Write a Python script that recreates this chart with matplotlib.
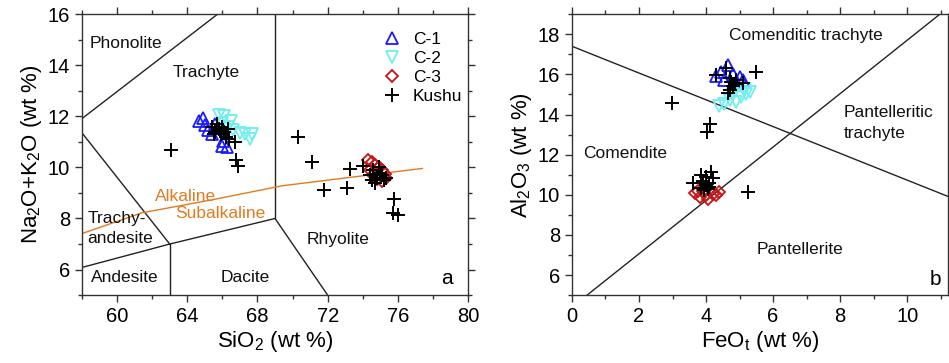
import matplotlib
matplotlib.use("Agg")
import matplotlib.pyplot as plt
from matplotlib.ticker import MultipleLocator

plt.rcParams['font.family'] = ['Liberation Sans', 'DejaVu Sans']
plt.rcParams['mathtext.default'] = 'regular'

# ---------------- Panel a: TAS ----------------
c1_sio2 = [64.65, 64.9, 65.0, 65.2, 65.6, 66.0, 66.25, 66.05, 65.4]
c1_alk = [11.8, 11.95, 11.65, 11.45, 11.7, 10.85, 10.8, 11.05, 11.3]
c2_sio2 = [65.8, 66.1, 66.5, 66.6, 67.0, 67.3, 67.7, 67.6, 66.3, 66.0]
c2_alk = [12.05, 12.0, 11.8, 11.45, 11.35, 11.3, 11.3, 11.1, 11.6, 11.75]
c3_sio2 = [74.3, 74.5, 74.7, 74.9, 75.1, 75.25, 75.3, 75.1, 74.8, 74.6, 74.4]
c3_alk = [10.3, 10.2, 10.1, 10.0, 9.9, 9.75, 9.6, 9.45, 9.55, 9.7, 9.9]
ku_sio2 = [63.1, 65.4, 65.6, 65.8, 65.9, 66.0, 66.1, 66.2, 66.3, 65.7, 65.5, 66.4,
           66.7, 66.8, 66.9, 70.3, 71.1, 71.8, 73.1, 73.3, 74.0, 74.4, 74.6, 74.8,
           75.0, 75.2, 75.3, 74.5, 74.9, 75.1, 74.7, 75.8, 75.7, 76.0]
ku_alk = [10.7, 11.6, 11.4, 11.5, 11.3, 11.6, 11.4, 11.2, 11.5, 11.7, 11.3, 11.1,
          11.0, 10.3, 10.05, 11.2, 10.2, 9.1, 9.2, 9.95, 10.05, 9.7, 9.9, 9.6,
          9.8, 9.5, 9.6, 9.5, 10.0, 9.7, 9.4, 8.75, 8.2, 8.15]

# TAS boundary lines
tas_lines = [
    ([57.6, 69.0], [11.7, 17.73]),
    ([57.6, 63.0], [11.7, 7.0]),
    ([57.0, 63.0, 69.0, 77.0], [5.9, 7.0, 8.0, 0.0]),
    ([63.0, 63.0], [0.0, 7.0]),
    ([69.0, 69.0], [8.0, 17.0]),
]
ab_sio2 = [58.0, 61.4, 65.4, 69.4, 77.4]
ab_alk = [7.41, 8.22, 8.73, 9.28, 9.96]

# ---------------- Panel b: FeOt vs Al2O3 ----------------
c1_feo = [4.3, 4.45, 4.65, 4.8, 5.0, 5.1, 4.55, 4.9]
c1_al = [15.9, 16.1, 16.45, 16.0, 15.85, 15.7, 15.7, 15.6]
c2_feo = [4.4, 4.55, 4.7, 4.9, 5.05, 5.2, 5.3, 4.8, 5.15]
c2_al = [14.4, 14.5, 14.7, 14.6, 14.85, 15.0, 15.1, 15.0, 15.25]
c3_feo = [3.66, 3.81, 4.06, 4.31, 4.4, 3.9, 4.2, 4.0, 3.75]
c3_al = [10.07, 9.9, 9.8, 9.99, 10.15, 10.2, 10.05, 10.0, 10.2]
kb_feo = [2.97, 4.11, 4.03, 5.25, 5.48, 4.6, 4.3, 4.75, 5.1, 4.7, 4.65, 4.8, 4.9,
          4.85, 4.7, 3.61, 3.86, 4.16, 4.21, 3.9, 4.0, 4.05, 4.1, 3.95, 4.0, 4.08, 3.85]
kb_al = [14.58, 13.51, 13.11, 10.12, 16.12, 16.3, 15.96, 15.63, 15.55, 15.21, 15.05,
         15.4, 15.7, 15.5, 15.8, 10.6, 10.98, 11.15, 10.82, 10.7, 10.5, 10.3, 10.4,
         10.25, 10.9, 10.6, 10.35]
line1_feo = [0.0, 12.0]
line1_al = [17.4, 17.4 - 0.667 * 12.0]
line2_feo = [0.0, 12.0]
line2_al = [4.4, 4.4 + 1.33 * 12.0]

BLUE = '#1a1aff'
CYAN = '#6eeef0'
RED = '#cc1111'
ORANGE = '#e07b20'

fig = plt.figure(figsize=(9.49, 3.63), dpi=100)
ax1 = fig.add_axes([0.0864, 0.187, 0.4068, 0.774])
ax2 = fig.add_axes([0.6027, 0.187, 0.3963, 0.774])

mk = dict(linestyle='none', markerfacecolor='none', markersize=8, markeredgewidth=1.3)
mkd = dict(linestyle='none', markerfacecolor='none', markersize=6, markeredgewidth=1.3)

def style(ax):
    ax.tick_params(which='both', direction='out', top=True, right=True,
                   labelsize=14.5, width=1, colors='#333333', labelcolor='black')
    ax.tick_params(which='major', length=5)
    ax.tick_params(which='minor', length=3)
    for s in ax.spines.values():
        s.set_linewidth(1)
        s.set_color('#333333')

# Panel a
for xs, ys in tas_lines:
    ax1.plot(xs, ys, color='#222222', lw=1)
ax1.plot(ab_sio2, ab_alk, color=ORANGE, lw=1)
ax1.plot(c1_sio2, c1_alk, marker='^', color=BLUE, label='C-1', **mk)
ax1.plot(c2_sio2, c2_alk, marker='v', color=CYAN, label='C-2', **mk)
ax1.plot(c3_sio2, c3_alk, marker='D', color=RED, label='C-3', **mkd)
ax1.plot(ku_sio2, ku_alk, marker='+', color='black', label='Kushu',
         linestyle='none', markersize=10, markeredgewidth=1.4)
ax1.set_xlim(58, 80)
ax1.set_ylim(5, 16)
ax1.xaxis.set_major_locator(MultipleLocator(4))
ax1.xaxis.set_minor_locator(MultipleLocator(2))
ax1.yaxis.set_major_locator(MultipleLocator(2))
ax1.yaxis.set_minor_locator(MultipleLocator(1))
style(ax1)
ax1.set_xlabel('SiO$_2$ (wt %)', fontsize=16, labelpad=2)
ax1.set_ylabel('Na$_2$O+K$_2$O (wt %)', fontsize=16, labelpad=3)
tk = dict(fontsize=12.5, color='#111111')
ax1.text(60.5, 14.85, 'Phonolite', ha='center', va='center', **tk)
ax1.text(65.1, 13.7, 'Trachyte', ha='center', va='center', **tk)
ax1.text(58.3, 8.0, 'Trachy-', ha='left', va='center', **tk)
ax1.text(58.3, 7.2, 'andesite', ha='left', va='center', **tk)
ax1.text(60.45, 5.7, 'Andesite', ha='center', va='center', **tk)
ax1.text(67.3, 5.7, 'Dacite', ha='center', va='center', **tk)
ax1.text(72.6, 7.17, 'Rhyolite', ha='center', va='center', **tk)
ax1.text(63.9, 8.86, 'Alkaline', ha='center', va='center', fontsize=12.5, color=ORANGE)
ax1.text(65.9, 8.2, 'Subalkaline', ha='center', va='center', fontsize=12.5, color=ORANGE)
ax1.text(78.8, 5.65, 'a', ha='center', va='center', fontsize=15)
ax1.legend(loc='upper right', bbox_to_anchor=(1.012, 0.975), frameon=False,
           fontsize=12.5, handlelength=1.0, handletextpad=0.7, labelspacing=0.22,
           borderaxespad=0.2)

# Panel b
ax2.plot(line1_feo, line1_al, color='#222222', lw=1)
ax2.plot(line2_feo, line2_al, color='#222222', lw=1)
ax2.plot(c1_feo, c1_al, marker='^', color=BLUE, **mk)
ax2.plot(c2_feo, c2_al, marker='v', color=CYAN, **mk)
ax2.plot(c3_feo, c3_al, marker='D', color=RED, **mkd)
ax2.plot(kb_feo, kb_al, marker='+', color='black',
         linestyle='none', markersize=10, markeredgewidth=1.4)
ax2.set_xlim(0, 11.22)
ax2.set_ylim(5, 19)
ax2.xaxis.set_major_locator(MultipleLocator(2))
ax2.xaxis.set_minor_locator(MultipleLocator(1))
ax2.yaxis.set_major_locator(MultipleLocator(2))
ax2.yaxis.set_minor_locator(MultipleLocator(1))
style(ax2)
ax2.set_xlabel('FeO$_t$ (wt %)', fontsize=16, labelpad=2)
ax2.set_ylabel('Al$_2$O$_3$ (wt %)', fontsize=16, labelpad=3)
ax2.text(6.98, 17.95, 'Comenditic trachyte', ha='center', va='center', **tk)
ax2.text(8.1, 14.08, 'Pantelleritic', ha='left', va='center', **tk)
ax2.text(8.1, 13.06, 'trachyte', ha='left', va='center', **tk)
ax2.text(1.58, 12.07, 'Comendite', ha='center', va='center', **tk)
ax2.text(6.79, 7.29, 'Pantellerite', ha='center', va='center', **tk)
ax2.text(10.85, 5.8, 'b', ha='center', va='center', fontsize=15)

fig.savefig('out.png', dpi=100)
